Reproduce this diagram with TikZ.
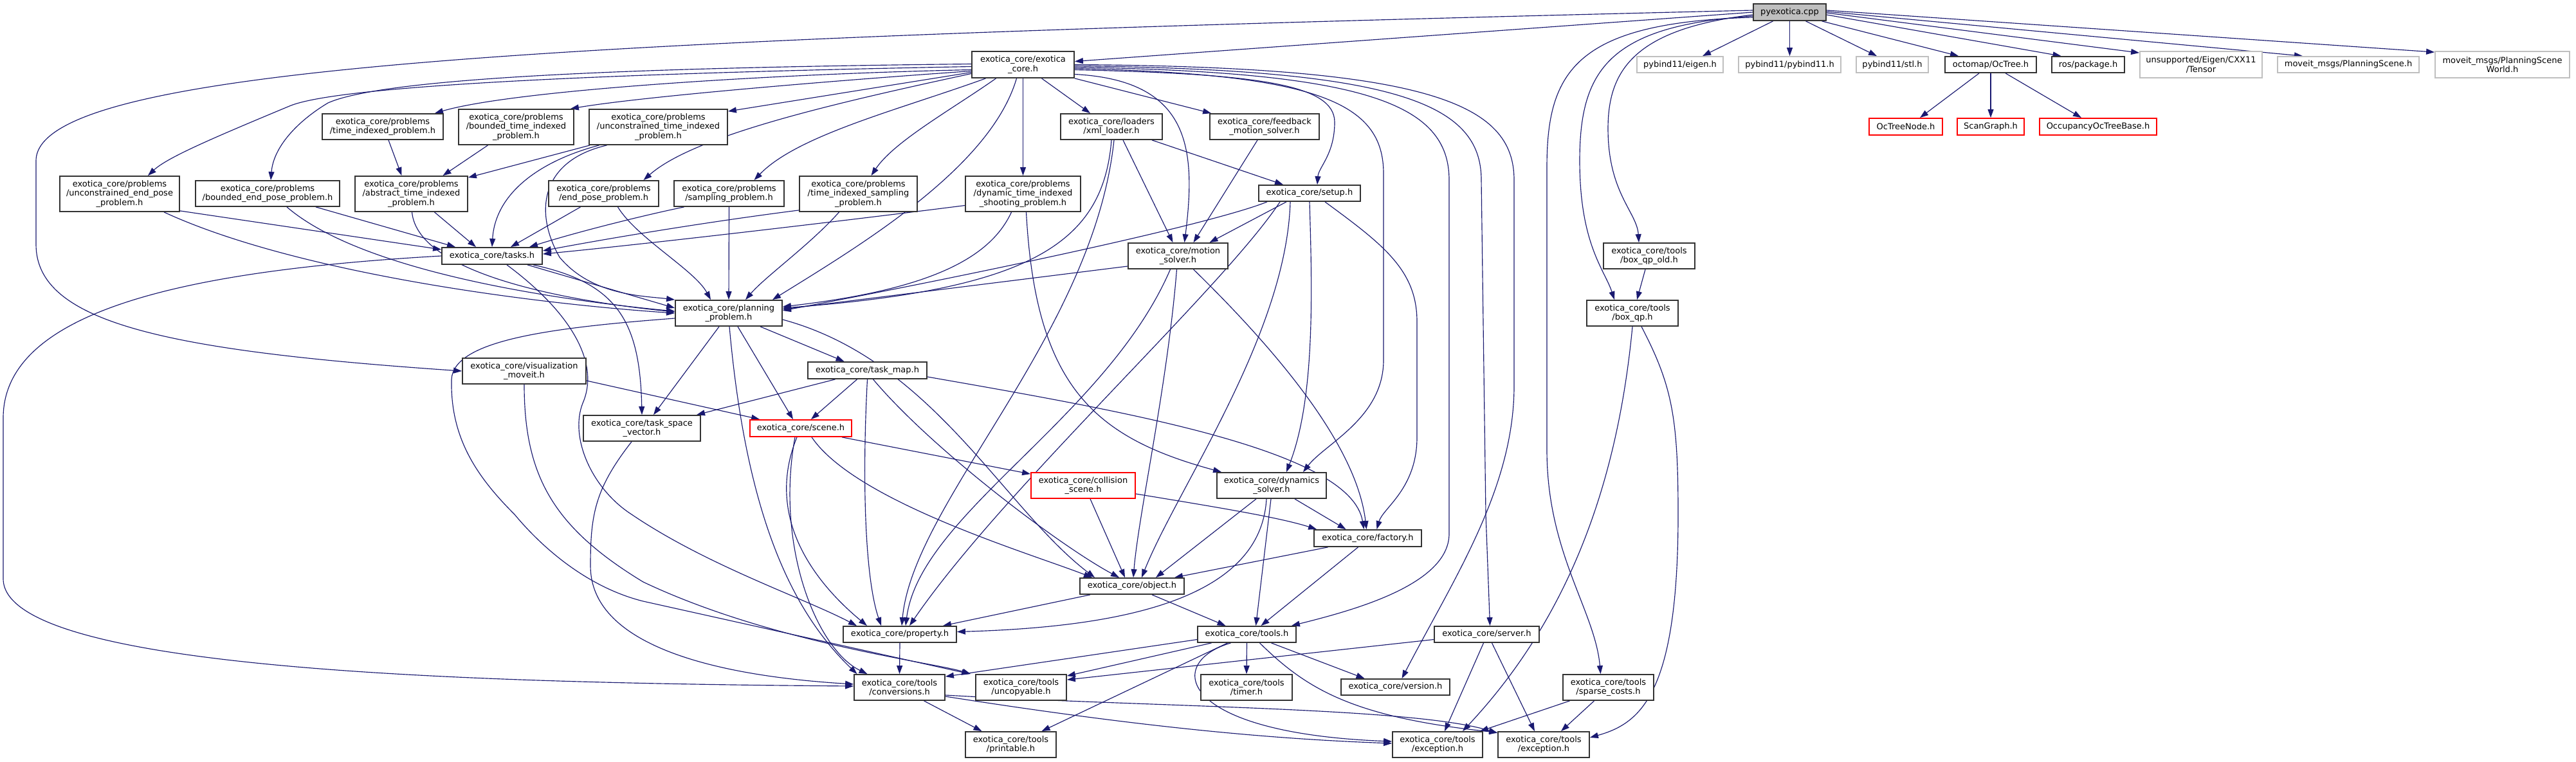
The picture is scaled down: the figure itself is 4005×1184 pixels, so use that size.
\documentclass[tikz,border=0pt]{standalone}
\usepackage{fontspec}
\setmainfont{DejaVu Sans}
\usetikzlibrary{arrows.meta}
\definecolor{edgec}{HTML}{191970}
\definecolor{grayb}{HTML}{BFBFBF}
\definecolor{redb}{HTML}{FF0000}
\pgfdeclarelayer{bgl}
\pgfdeclarelayer{edges}
\pgfsetlayers{bgl,edges,main}
\newcommand\nfont{\fontsize{13pt}{14.5pt}\selectfont}
\tikzset{
 nbase/.style={rectangle, inner sep=0pt, align=center, font=\nfont, fill=white, line width=1.8pt},
 nb/.style={nbase, draw=black!80},
 ng/.style={nbase, draw=grayb},
 nr/.style={nbase, draw=redb},
 np/.style={nbase, draw=black!80, fill=grayb},
 sz/.style 2 args={minimum width=#1pt, minimum height=#2pt},
 edg/.style={draw=edgec, line width=1.15pt, -{Triangle[length=13pt,width=9pt]}},
}
\begin{document}
\begin{tikzpicture}[x=1pt,y=-1pt]
\begin{pgfonlayer}{bgl}
\fill[white] (0,0) rectangle (4005,1184);
\end{pgfonlayer}
\useasboundingbox (0,0) rectangle (4005,1184);
% ---------- nodes ----------
\node[np,sz={113}{26}] (P) at (2782.5,19) {pyexotica.cpp};
\node[nb,sz={159}{41}] (core) at (1590.5,100.5) {exotica\_core/exotica\\\_core.h};
\node[ng,sz={134}{25}] (eigen) at (2612,100.5) {pybind11/eigen.h};
\node[ng,sz={159}{25}] (pb11) at (2782.5,100.5) {pybind11/pybind11.h};
\node[ng,sz={112}{25}] (stl) at (2942,100.5) {pybind11/stl.h};
\node[nb,sz={142}{25}] (octree) at (3095,100.5) {octomap/OcTree.h};
\node[nb,sz={113}{25}] (rospkg) at (3246.5,100.5) {ros/package.h};
\node[ng,sz={190}{41}] (tensor) at (3422,100.5) {unsupported/Eigen/CXX11\\/Tensor};
\node[ng,sz={220}{25}] (psc) at (3651,100.5) {moveit\_msgs/PlanningScene.h};
\node[ng,sz={209}{41}] (psw) at (3890.5,100.5) {moveit\_msgs/PlanningScene\\World.h};
\node[nr,sz={114}{26}] (octnode) at (2963,197) {OcTreeNode.h};
\node[nr,sz={104}{26}] (scang) at (3095,197) {ScanGraph.h};
\node[nr,sz={182}{26}] (occ) at (3262,197) {OccupancyOcTreeBase.h};
\node[nb,sz={188}{40}] (ti) at (595,197) {exotica\_core/problems\\/time\_indexed\_problem.h};
\node[nb,sz={179}{55}] (bti) at (802.5,197.5) {exotica\_core/problems\\/bounded\_time\_indexed\\\_problem.h};
\node[nb,sz={215}{55}] (uti) at (1023.5,197.5) {exotica\_core/problems\\/unconstrained\_time\_indexed\\\_problem.h};
\node[nb,sz={186}{55}] (uep) at (186,301.5) {exotica\_core/problems\\/unconstrained\_end\_pose\\\_problem.h};
\node[nb,sz={224}{40}] (bep) at (416,301) {exotica\_core/problems\\/bounded\_end\_pose\_problem.h};
\node[nb,sz={175}{55}] (ati) at (639.5,301.5) {exotica\_core/problems\\/abstract\_time\_indexed\\\_problem.h};
\node[nb,sz={171}{40}] (ep) at (938.5,301) {exotica\_core/problems\\/end\_pose\_problem.h};
\node[nb,sz={171}{40}] (sp) at (1133.5,301) {exotica\_core/problems\\/sampling\_problem.h};
\node[nb,sz={183}{55}] (tis) at (1334.5,301.5) {exotica\_core/problems\\/time\_indexed\_sampling\\\_problem.h};
\node[nb,sz={179}{55}] (dts) at (1590.5,301.5) {exotica\_core/problems\\/dynamic\_time\_indexed\\\_shooting\_problem.h};
\node[nb,sz={158}{40}] (xl) at (1728,197) {exotica\_core/loaders\\/xml\_loader.h};
\node[nb,sz={170}{40}] (fb) at (1966,197) {exotica\_core/feedback\\\_motion\_solver.h};
\node[nb,sz={155}{40}] (ms) at (1831.5,398) {exotica\_core/motion\\\_solver.h};
\node[nb,sz={158}{25}] (su) at (2036,300.5) {exotica\_core/setup.h};
\node[nb,sz={142}{40}] (bqo) at (2564,398) {exotica\_core/tools\\/box\_qp\_old.h};
\node[nb,sz={156}{26}] (tk) at (765,398) {exotica\_core/tasks.h};
\node[nb,sz={192}{40}] (vm) at (815,577) {exotica\_core/visualization\\\_moveit.h};
\node[nb,sz={182}{40}] (tsv) at (998,666) {exotica\_core/task\_space\\\_vector.h};
\node[nb,sz={166}{40}] (pp) at (1133,487) {exotica\_core/planning\\\_problem.h};
\node[nb,sz={185}{26}] (tm) at (1348.5,576) {exotica\_core/task\_map.h};
\node[nr,sz={158}{26}] (sc) at (1245,666) {exotica\_core/scene.h};
\node[nr,sz={162}{40}] (cols) at (1684,755) {exotica\_core/collision\\\_scene.h};
\node[nb,sz={170}{40}] (ds) at (1977,755) {exotica\_core/dynamics\\\_solver.h};
\node[nb,sz={142}{40}] (bq) at (2538,487) {exotica\_core/tools\\/box\_qp.h};
\node[nb,sz={162}{25}] (ob) at (1760,911.5) {exotica\_core/object.h};
\node[nb,sz={176}{25}] (pr) at (1399,986.5) {exotica\_core/property.h};
\node[nb,sz={153}{25}] (tools) at (1938.5,986.5) {exotica\_core/tools.h};
\node[nb,sz={141}{40}] (cv) at (1398.5,1069) {exotica\_core/tools\\/conversions.h};
\node[nb,sz={141}{40}] (un) at (1587.5,1069) {exotica\_core/tools\\/uncopyable.h};
\node[nb,sz={142}{40}] (tmr) at (1938,1069) {exotica\_core/tools\\/timer.h};
\node[nb,sz={141}{40}] (prn) at (1571.5,1158) {exotica\_core/tools\\/printable.h};
\node[nb,sz={167}{26}] (fa) at (2126.5,837) {exotica\_core/factory.h};
\node[nb,sz={163}{25}] (sv) at (2311.5,986.5) {exotica\_core/server.h};
\node[nb,sz={169}{25}] (ve) at (2169.5,1068.5) {exotica\_core/version.h};
\node[nb,sz={141}{40}] (spc) at (2500.5,1069) {exotica\_core/tools\\/sparse\_costs.h};
\node[nb,sz={140}{40}] (ex1) at (2235,1158) {exotica\_core/tools\\/exception.h};
\node[nb,sz={142}{40}] (ex2) at (2400,1158) {exotica\_core/tools\\/exception.h};
% ---------- edges ----------
\begin{pgfonlayer}{edges}
% pyexotica.cpp
\draw[edg] (P.west) -- ([yshift=5pt]core.east);
\draw[edg] ([yshift=3pt]P.west) .. controls (900,60) and (56,100) .. (56,250) -- (56,380) .. controls (56,500) and (250,545) .. (vm.west);
\draw[edg] ([xshift=-26pt]P.south) -- ([xshift=35pt]eigen.north);
\draw[edg] (P.south) -- (pb11.north);
\draw[edg] ([xshift=25pt]P.south) -- ([xshift=-24pt]stl.north);
\draw[edg] ([xshift=50pt]P.south) -- ([xshift=-50pt]octree.north);
\draw[edg] ([yshift=-4pt]P.east) -- ([xshift=-42pt]rospkg.north);
\draw[edg] ([yshift=-1pt]P.east) -- ([yshift=-3pt]tensor.north west);
\draw[edg] ([yshift=1pt]P.east) -- ([xshift=-71pt]psc.north);
\draw[edg] ([yshift=3pt]P.east) -- ([yshift=-2pt]psw.north west);
\draw[edg] ([yshift=-4pt]P.west) .. controls (2540,45) and (2500,110) .. (2500,200) .. controls (2500,300) and (2545,330) .. ([xshift=-16pt]bqo.north);
\draw[edg] ([yshift=-6pt]P.west) .. controls (2500,40) and (2456,110) .. (2456,250) .. controls (2456,380) and (2495,420) .. ([xshift=-28pt]bq.north);
\draw[edg] ([yshift=-8pt]P.west) .. controls (2450,35) and (2405,110) .. (2405,260) -- (2405,700) .. controls (2405,860) and (2480,950) .. ([xshift=-12pt]spc.north);
% octomap
\draw[edg] ([xshift=-18pt]octree.south) -- ([xshift=22pt]octnode.north);
\draw[edg] (octree.south) -- (scang.north);
\draw[edg] ([xshift=23pt]octree.south) -- ([xshift=-26pt]occ.north);
% exotica_core.h
\draw[edg] ([yshift=-3pt]core.west) .. controls (900,115) and (520,135) .. (450,165) .. controls (330,215) and (260,245) .. ([xshift=44pt]uep.north);
\draw[edg] ([yshift=1pt]core.west) .. controls (1000,105) and (600,120) .. (510,160) .. controls (460,190) and (425,230) .. ([xshift=5pt]bep.north);
\draw[edg] ([yshift=-8pt]core.west) .. controls (1200,115) and (800,140) .. ([xshift=81pt]ti.north);
\draw[edg] ([yshift=-10pt]core.west) .. controls (1300,125) and (1000,150) .. ([xshift=-6pt]bti.north east);
\draw[edg] ([yshift=-12pt]core.west) -- ([yshift=-4pt]uti.north east);
\draw[edg] ([yshift=-14pt]core.west) .. controls (1300,160) and (1080,210) .. ([xshift=62pt]ep.north);
\draw[edg] ([xshift=-58pt]core.south) .. controls (1400,170) and (1240,210) .. ([xshift=39pt]sp.north);
\draw[edg] ([xshift=-42pt]core.south) .. controls (1480,170) and (1390,220) .. ([xshift=20pt]tis.north);
\draw[edg] (core.south) -- (dts.north);
\draw[edg] ([xshift=-10pt]core.south) .. controls (1540,260) and (1340,380) .. ([xshift=68pt]pp.north);
\draw[edg] ([xshift=29pt]core.south) -- ([xshift=-33pt]xl.north);
\draw[edg] (core.south east) -- ([xshift=3pt]fb.north west);
\draw[edg] ([yshift=-15pt]core.east) .. controls (1850,125) and (1860,230) .. ([xshift=10pt]ms.north);
\draw[edg] ([yshift=-8pt]core.east) .. controls (1950,115) and (2075,130) .. (2075,190) .. controls (2075,240) and (2050,260) .. ([xshift=12pt]su.north);
\draw[edg] ([yshift=-6pt]core.east) .. controls (2050,115) and (2151,160) .. (2151,270) -- (2151,560) .. controls (2151,650) and (2060,690) .. ([xshift=49pt]ds.north);
\draw[edg] ([yshift=-4pt]core.east) .. controls (2120,112) and (2253,160) .. (2253,280) -- (2253,830) .. controls (2253,910) and (2100,950) .. ([xshift=-8pt]tools.north east);
\draw[edg] ([yshift=-2pt]core.east) .. controls (2170,108) and (2303,160) .. (2303,280) -- (2310,800) -- ([xshift=5pt]sv.north);
\draw[edg] (core.east) .. controls (2220,104) and (2354,160) .. (2354,280) -- (2354,600) .. controls (2354,760) and (2260,900) .. ([xshift=10pt]ve.north);
% problems
\draw[edg] ([yshift=2pt]uep.south east) -- ([yshift=10pt]tk.west);
\draw[edg] ([xshift=69pt]uep.south) .. controls (450,420) and (800,470) .. (pp.west);
\draw[edg] ([xshift=75pt]bep.south) -- ([xshift=-57pt]tk.north);
\draw[edg] ([xshift=30pt]bep.south) .. controls (560,420) and (850,465) .. ([yshift=3pt]pp.west);
\draw[edg] ([xshift=36pt]ati.south) -- ([xshift=-25pt]tk.north);
\draw[edg] ([xshift=1pt]ati.south) .. controls (650,430) and (900,470) .. ([yshift=2pt]pp.west);
\draw[edg] ([xshift=9pt]ti.south) -- ([xshift=-15pt]ati.north);
\draw[edg] ([xshift=-44pt]bti.south) -- ([xshift=49pt]ati.north);
\draw[edg] ([xshift=2pt]uti.south west) -- ([yshift=-3pt]ati.north east);
\draw[edg] ([xshift=-92pt]uti.south) .. controls (840,250) and (770,300) .. (tk.north);
\draw[edg] ([xshift=-80pt]uti.south) .. controls (840,250) and (830,330) .. (870,400) .. controls (920,460) and (1000,460) .. (pp.north west);
\draw[edg] ([xshift=-36pt]ep.south) -- ([xshift=29pt]tk.north);
\draw[edg] ([xshift=22pt]ep.south) .. controls (990,370) and (1080,420) .. ([xshift=-28pt]pp.north);
\draw[edg] ([xshift=-70pt]sp.south) .. controls (1000,335) and (900,360) .. ([xshift=58pt]tk.north);
\draw[edg] (sp.south) -- (pp.north);
\draw[edg] ([yshift=3pt]tis.south west) .. controls (1100,345) and (950,370) .. ([yshift=8pt]tk.east);
\draw[edg] ([xshift=-30pt]tis.south) .. controls (1260,380) and (1190,430) .. ([xshift=26pt]pp.north);
\draw[edg] ([yshift=-18pt]dts.west) .. controls (1300,345) and (1000,380) .. ([yshift=3pt]tk.east);
\draw[edg] ([xshift=-18pt]dts.south) .. controls (1540,400) and (1450,450) .. ([yshift=10pt]pp.east);
\draw[edg] ([xshift=5pt]dts.south) .. controls (1610,600) and (1700,680) .. ([xshift=8pt]ds.north west);
% loaders / feedback / setup / motion solver
\draw[edg] ([xshift=63pt]xl.south) -- ([xshift=-41pt]su.north);
\draw[edg] ([xshift=18pt]xl.south) -- ([xshift=-8pt]ms.north);
\draw[edg] (xl.south) .. controls (1715,380) and (1600,450) .. ([yshift=8pt]pp.east);
\draw[edg] ([xshift=4pt]xl.south) .. controls (1700,520) and (1420,780) .. ([xshift=3pt]pr.north);
\draw[edg] ([xshift=-11pt]fb.south) -- ([xshift=24pt]ms.north);
\draw[edg] ([xshift=-36pt]su.south) -- ([xshift=49pt]ms.north);
\draw[edg] ([xshift=-66pt]su.south) .. controls (1880,350) and (1500,430) .. ([yshift=4pt]pp.east);
\draw[edg] (su.south) .. controls (2040,450) and (2045,620) .. ([xshift=23pt]ds.north);
\draw[edg] ([xshift=24pt]su.south) .. controls (2150,380) and (2203,420) .. (2203,500) -- (2203,680) .. controls (2203,760) and (2150,790) .. ([xshift=14pt]fa.north);
\draw[edg] ([xshift=-46pt]su.south) .. controls (1900,450) and (1560,760) .. ([xshift=15pt]pr.north);
\draw[edg] ([xshift=-30pt]su.south) .. controls (2000,520) and (1830,760) .. ([xshift=15pt]ob.north);
\draw[edg] ([yshift=-16pt]ms.west) -- ([yshift=6pt]pp.east);
\draw[edg] ([xshift=-2pt]ms.south) .. controls (1815,600) and (1770,800) .. ([xshift=2pt]ob.north);
\draw[edg] ([xshift=-12pt]ms.south) .. controls (1720,650) and (1430,800) .. ([xshift=9pt]pr.north);
\draw[edg] ([xshift=24pt]ms.south) .. controls (2000,560) and (2110,700) .. ([xshift=-2pt]fa.north);
% planning problem
\draw[edg] ([xshift=49pt]pp.south) -- ([xshift=-36pt]tm.north);
\draw[edg] ([xshift=-15pt]pp.south) -- ([xshift=18pt]tsv.north);
\draw[edg] ([xshift=14pt]pp.south) -- ([xshift=-12pt]sc.north);
\draw[edg] ([xshift=1pt]pp.south) .. controls (1160,800) and (1230,950) .. ([xshift=-66pt]cv.north);
\draw[edg] ([yshift=-10pt]pp.east) .. controls (1450,560) and (1560,790) .. ([xshift=-58pt]ob.north);
\draw[edg] ([yshift=-8pt]pp.west) .. controls (850,510) and (705,530) .. (702,590) .. controls (700,680) and (740,740) .. (800,800) .. controls (850,860) and (920,915) .. (1000,935) -- ([xshift=-8pt]un.north west);
% visualization / tasks / task space vector
\draw[edg] (vm.south) .. controls (815,740) and (860,820) .. (1000,905) .. controls (1200,1000) and (1450,1030) .. ([xshift=-7pt]un.north west);
\draw[edg] ([yshift=-15pt]vm.east) -- ([xshift=16pt]sc.north west);
\draw[edg] ([xshift=64pt]tk.south) .. controls (960,440) and (995,500) .. (tsv.north);
\draw[edg] ([xshift=23pt]tk.south) .. controls (880,480) and (935,560) .. (906,627) .. controls (885,680) and (920,760) .. (982,800) .. controls (1100,880) and (1250,930) .. ([xshift=-67pt]pr.north);
\draw[edg] (tk.west) .. controls (300,420) and (5,480) .. (5,650) -- (5,900) .. controls (5,1040) and (700,1062) .. ([yshift=2pt]cv.west);
\draw[edg] ([xshift=55pt]tk.south) -- ([yshift=8pt]pp.west);
\draw[edg] ([xshift=-16pt]tsv.south) .. controls (925,760) and (918,800) .. (918,880) .. controls (918,1000) and (1100,1050) .. ([yshift=5pt]cv.west);
% task map / scene
\draw[edg] ([xshift=-50pt]tm.south) -- ([xshift=85pt]tsv.north);
\draw[edg] ([xshift=-16pt]tm.south) -- ([xshift=16pt]sc.north);
\draw[edg] (tm.south) .. controls (1340,750) and (1345,900) .. ([xshift=-29pt]pr.north);
\draw[edg] ([xshift=9pt]tm.south) .. controls (1450,700) and (1650,850) .. ([xshift=-20pt]ob.north);
\draw[edg] ([yshift=-10pt]tm.east) .. controls (1750,640) and (2100,700) .. ([xshift=-6pt]fa.north);
\draw[edg] ([xshift=64pt]sc.south) -- ([yshift=-3pt]cols.north west);
\draw[edg] ([xshift=-6pt]sc.south) .. controls (1190,800) and (1260,900) .. ([xshift=-51pt]pr.north);
\draw[edg] ([xshift=-9pt]sc.south) .. controls (1205,850) and (1270,1010) .. ([xshift=-50pt]cv.north);
\draw[edg] ([xshift=17pt]sc.south) .. controls (1330,780) and (1600,860) .. ([xshift=-62pt]ob.north);
% collision / dynamics / factory / object
\draw[edg] ([xshift=11pt]cols.south) -- ([xshift=-11pt]ob.north);
\draw[edg] ([yshift=-13pt]cols.east) .. controls (1900,790) and (1990,805) .. ([xshift=5pt]fa.north west);
\draw[edg] ([xshift=-24pt]ds.south) -- ([xshift=37pt]ob.north);
\draw[edg] ([xshift=-1pt]ds.south) -- ([xshift=14pt]tools.north);
\draw[edg] ([xshift=36pt]ds.south) -- ([xshift=-34pt]fa.north);
\draw[edg] ([xshift=-8pt]ds.south) .. controls (1960,930) and (1750,975) .. ([yshift=4pt]pr.east);
\draw[edg] ([xshift=-62pt]fa.south) -- ([xshift=66pt]ob.north);
\draw[edg] ([xshift=-15pt]fa.south) -- ([xshift=22pt]tools.north);
\draw[edg] ([xshift=-65pt]ob.south) -- ([xshift=67pt]pr.north);
\draw[edg] ([xshift=31pt]ob.south) -- ([xshift=-33pt]tools.north);
\draw[edg] (pr.south) -- (cv.north);
% tools.h
\draw[edg] ([yshift=-8pt]tools.west) -- ([yshift=-4pt]cv.north east);
\draw[edg] ([xshift=-55pt]tools.south) -- ([yshift=-3pt]un.north east);
\draw[edg] ([xshift=-30pt]tools.south) -- ([xshift=48pt]prn.north);
\draw[edg] (tools.south) -- (tmr.north);
\draw[edg] ([xshift=38pt]tools.south) -- ([xshift=-48pt]ve.north);
\draw[edg] ([xshift=-25pt]tools.south) .. controls (1810,1030) and (1830,1140) .. ([yshift=5pt]ex1.west);
\draw[edg] ([xshift=20pt]tools.south) .. controls (2030,1070) and (2100,1115) .. ([yshift=-2pt]ex2.north west);
% conversions / server / sparse costs / box qp
\draw[edg] ([xshift=38pt]cv.south) -- ([xshift=-45pt]prn.north);
\draw[edg] ([yshift=-14pt]cv.east) .. controls (1800,1135) and (2000,1150) .. ([yshift=2pt]ex1.west);
\draw[edg] ([yshift=-12pt]cv.east) .. controls (1800,1100) and (2200,1100) .. ([yshift=-3pt]ex2.north west);
\draw[edg] ([yshift=-8pt]sv.west) -- ([yshift=-9pt]un.north east);
\draw[edg] ([xshift=-5pt]sv.south) -- ([xshift=11pt]ex1.north);
\draw[edg] ([xshift=8pt]sv.south) -- ([xshift=-14pt]ex2.north);
\draw[edg] ([xshift=-60pt]spc.south) -- ([xshift=-5pt]ex1.north east);
\draw[edg] ([xshift=-22pt]spc.south) -- ([xshift=27pt]ex2.north);
\draw[edg] (bq.south) .. controls (2515,750) and (2440,960) .. ([xshift=39pt]ex1.north);
\draw[edg] ([xshift=14pt]bq.south) .. controls (2600,600) and (2609,650) .. (2609,800) .. controls (2609,1080) and (2550,1125) .. ([yshift=11pt]ex2.east);
\draw[edg] ([xshift=-6pt]bqo.south) -- ([xshift=7pt]bq.north);
\end{pgfonlayer}
\end{tikzpicture}
\end{document}
